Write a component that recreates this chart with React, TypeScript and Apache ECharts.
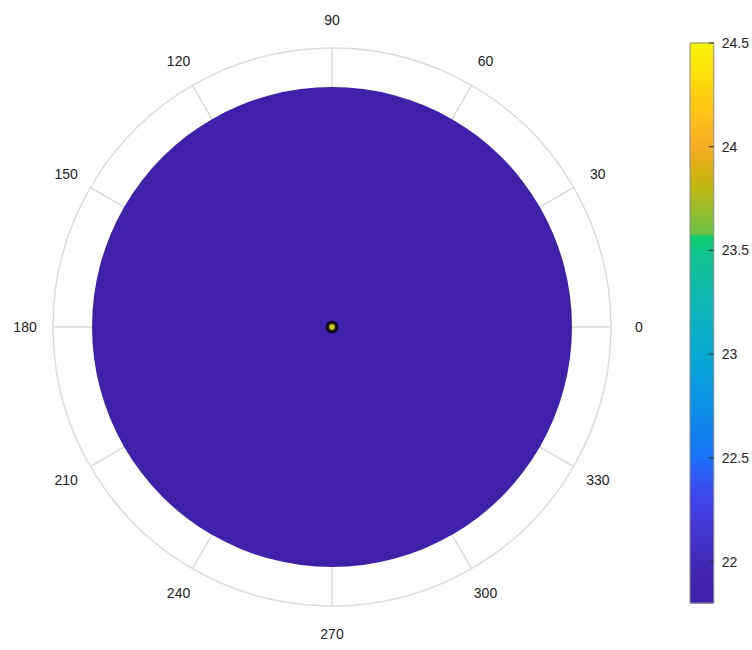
import React, { useEffect, useRef } from 'react';
import * as echarts from 'echarts';

// ---- data ----
const angleMin = 0;
const angleMax = 360;
const angleStep = 30;
const angleLabels = [0, 30, 60, 90, 120, 150, 180, 210, 240, 270, 300, 330];
const radiusMax = 1.1625; // outer ring of the polar axes
const labelRadius = 1.279;
const diskOuterRadius = [1];
const diskValues = [21.8];
const centerPoints = [[0, 0]];
const centerValues = [24.5];
const cbMin = 21.8;
const cbMax = 24.5;
const cbTickValues = [22, 22.5, 23, 23.5, 24, 24.5];
const cbStopValues = [21.8, 22.0, 22.2, 22.35, 22.5, 22.75, 23.0, 23.25, 23.5, 23.57, 23.58, 23.7, 23.8, 23.9, 24.0, 24.15, 24.3, 24.5];
const cbStopColors = ['#3f21a9', '#4229b8', '#4638d8', '#3a4cf2', '#1a72f6', '#0a90e6', '#09a8d2', '#0db7b4', '#10c48a', '#0ccf6c', '#6cc044', '#98bc2a', '#bcb814', '#dab012', '#f6ac28', '#fec21a', '#fdd80c', '#f6f60a'];

const FONT = '"Liberation Sans", Arial, Helvetica, sans-serif';

function hexToRgb(h: string) {
  const n = parseInt(h.slice(1), 16);
  return [(n >> 16) & 255, (n >> 8) & 255, n & 255];
}
function colorFor(v: number) {
  if (v <= cbStopValues[0]) return cbStopColors[0];
  const last = cbStopValues.length - 1;
  if (v >= cbStopValues[last]) return cbStopColors[last];
  for (let i = 0; i < last; i++) {
    const a = cbStopValues[i], b = cbStopValues[i + 1];
    if (v >= a && v <= b) {
      const t = (v - a) / (b - a);
      const c1 = hexToRgb(cbStopColors[i]), c2 = hexToRgb(cbStopColors[i + 1]);
      const c = c1.map((x, k) => Math.round(x + (c2[k] - x) * t));
      return `rgb(${c[0]},${c[1]},${c[2]})`;
    }
  }
  return cbStopColors[last];
}

export default function App() {
  const ref = useRef<HTMLDivElement>(null);
  useEffect(() => {
    document.body.style.margin = '0';
    const chart = echarts.init(ref.current!, null, { renderer: 'svg' });
    const bands = cbStopValues.slice(0, -1).map((v, i) => [v, cbStopValues[i + 1], i]);
    chart.setOption({
      animation: false,
      backgroundColor: '#ffffff',
      polar: { center: [332, 327], radius: 279 },
      angleAxis: {
        type: 'value',
        min: angleMin,
        max: angleMax,
        interval: angleStep,
        startAngle: 0,
        clockwise: false,
        axisLine: { show: true, lineStyle: { color: '#dcdcdc', width: 1.5 } },
        axisTick: { show: false },
        splitLine: { show: true, lineStyle: { color: '#dcdcdc', width: 1.5 } },
        axisLabel: { show: false },
      },
      radiusAxis: {
        type: 'value',
        min: 0,
        max: radiusMax,
        axisLine: { show: false },
        axisTick: { show: false },
        axisLabel: { show: false },
        splitLine: { show: false },
      },
      grid: { left: 690, top: 43, width: 24, height: 560 },
      xAxis: { type: 'value', gridIndex: 0, min: 0, max: 1, show: false },
      yAxis: {
        type: 'value',
        gridIndex: 0,
        min: cbMin,
        max: cbMax,
        position: 'right',
        axisLine: { show: false },
        splitLine: { show: false },
        axisTick: { show: false },
        axisLabel: { customValues: cbTickValues, margin: 8, color: '#262626', fontSize: 14, fontFamily: FONT },
      },
      series: [
        {
          type: 'custom',
          coordinateSystem: 'polar',
          data: diskOuterRadius.map((r, i) => [r, 0, diskValues[i]]),
          renderItem: (params: any, api: any) => {
            const c = api.coord([0, 0]);
            const e = api.coord([api.value(0), 0]);
            const r = Math.hypot(e[0] - c[0], e[1] - c[1]);
            return { type: 'circle', shape: { cx: c[0], cy: c[1], r }, style: { fill: colorFor(api.value(2)) } };
          },
          z: 2,
          silent: true,
        },
        {
          type: 'scatter',
          coordinateSystem: 'polar',
          data: centerPoints.map((p, i) => ({ value: p, itemStyle: { color: colorFor(centerValues[i]) } })),
          symbol: 'circle',
          symbolSize: 9,
          itemStyle: { borderColor: '#000', borderWidth: 3.5 },
          z: 5,
          silent: true,
        },
        {
          type: 'custom',
          coordinateSystem: 'polar',
          clip: false,
          data: angleLabels.map((a) => [labelRadius, a]),
          renderItem: (params: any, api: any) => {
            const p = api.coord([api.value(0), api.value(1)]);
            return {
              type: 'text',
              x: p[0],
              y: p[1],
              style: {
                text: String(api.value(1)),
                fill: '#222222',
                fontSize: 14,
                fontFamily: FONT,
                align: 'center',
                verticalAlign: 'middle',
              },
            };
          },
          z: 5,
          silent: true,
        },
        {
          type: 'custom',
          coordinateSystem: 'cartesian2d',
          xAxisIndex: 0,
          yAxisIndex: 0,
          data: bands,
          renderItem: (params: any, api: any) => {
            const lo = api.value(0), hi = api.value(1);
            const p0 = api.coord([0, hi]);
            const p1 = api.coord([1, lo]);
            return {
              type: 'rect',
              shape: { x: p0[0], y: p0[1] - 0.5, width: p1[0] - p0[0], height: p1[1] - p0[1] + 1 },
              style: {
                fill: new echarts.graphic.LinearGradient(0, 0, 0, 1, [
                  { offset: 0, color: colorFor(hi) },
                  { offset: 1, color: colorFor(lo) },
                ]),
              },
            };
          },
          z: 1,
          silent: true,
        },
        {
          type: 'custom',
          coordinateSystem: 'cartesian2d',
          data: cbTickValues.map((v) => [1, v]),
          renderItem: (params: any, api: any) => {
            const p = api.coord([api.value(0), api.value(1)]);
            return {
              type: 'line',
              shape: { x1: p[0] - 5, y1: p[1], x2: p[0], y2: p[1] },
              style: { stroke: '#333', lineWidth: 1 },
            };
          },
          z: 4,
          silent: true,
        },
        {
          type: 'custom',
          coordinateSystem: 'cartesian2d',
          data: [[cbMin, cbMax]],
          renderItem: (params: any, api: any) => {
            const p0 = api.coord([0, api.value(1)]);
            const p1 = api.coord([1, api.value(0)]);
            return {
              type: 'rect',
              shape: { x: p0[0], y: p0[1], width: p1[0] - p0[0], height: p1[1] - p0[1] },
              style: { fill: 'none', stroke: '#8a8a8a', lineWidth: 1 },
            };
          },
          z: 3,
          silent: true,
        },
      ],
    });
    return () => chart.dispose();
  }, []);
  return <div ref={ref} style={{ width: 752, height: 650 }} />;
}
